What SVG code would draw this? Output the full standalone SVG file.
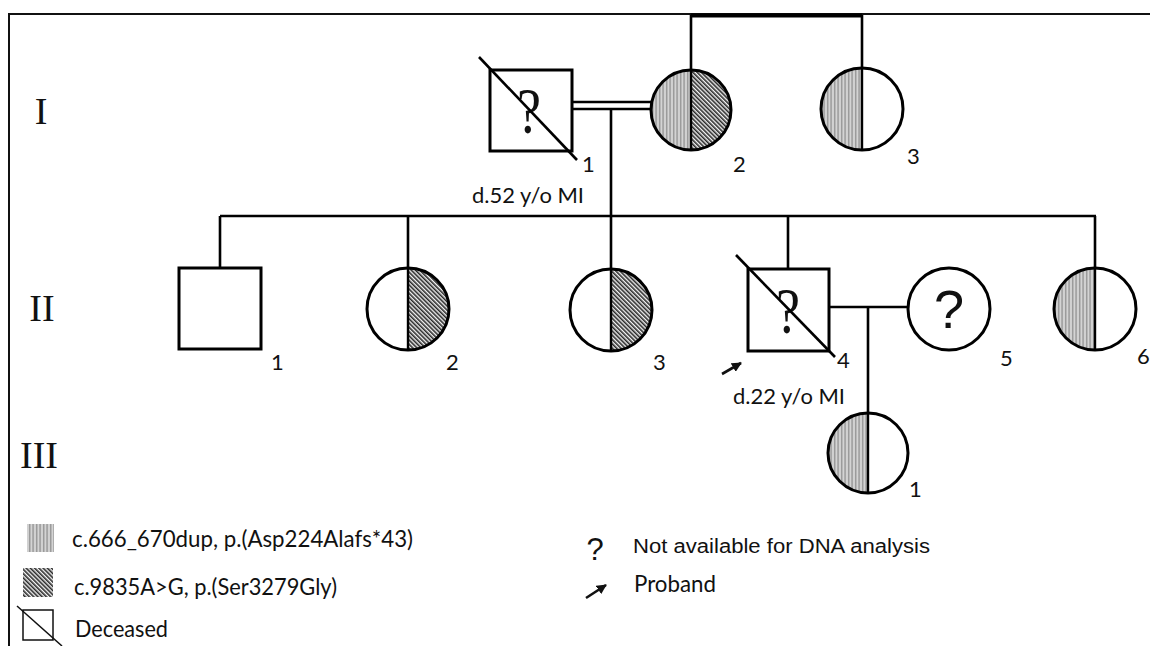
<svg xmlns="http://www.w3.org/2000/svg" width="1150" height="646" viewBox="0 0 1150 646">
<style>
.sh{fill:#fff;stroke:#000;stroke-width:3}
.ln{fill:none;stroke:#000;stroke-width:2.6}
.mid{stroke:#000;stroke-width:2.4}
.gen{font-family:"Liberation Serif",serif;font-size:38px;fill:#111;text-anchor:middle}
.num{font-family:Lato,"Open Sans",sans-serif;font-size:22px;fill:#111}
.lab{font-family:Lato,"Open Sans",sans-serif;font-size:22px;fill:#111}
.leg{font-family:Lato,"Open Sans",sans-serif;font-size:24px;fill:#111}
.qs{font-family:"Liberation Serif",serif;font-size:66px;fill:#111;text-anchor:middle}
.qa{font-family:"Liberation Sans",Arial,sans-serif;fill:#111;text-anchor:middle}
.ta{font-family:"Liberation Sans",Arial,sans-serif;fill:#111}
</style>
<defs>
<pattern id="lt" width="3.5" height="4" patternUnits="userSpaceOnUse"><rect width="3.5" height="4" fill="#d4d4d4"/><rect x="1" width="1.3" height="4" fill="#8e8e8e"/></pattern>
<pattern id="dk" width="3" height="3" patternUnits="userSpaceOnUse" patternTransform="rotate(-45)"><rect width="3" height="3" fill="#f4f4f4"/><rect width="1.6" height="3" fill="#2a2a2a"/></pattern>
<marker id="arr" markerWidth="10" markerHeight="10" refX="9" refY="5" orient="auto" markerUnits="userSpaceOnUse"><path d="M0,0 L10,5 L0,10 Z" fill="#111"/></marker>
</defs>
<rect width="1150" height="646" fill="#fff"/>
<g id="frame">
<path d="M9,646 V14 H1150" fill="none" stroke="#111" stroke-width="2"/>
</g>
<g id="generations">
<text class="gen" x="41" y="124">I</text>
<text class="gen" x="42" y="321">II</text>
<text class="gen" x="39" y="468">III</text>
</g>
<g id="connectors">
<path class="ln" d="M691,15 V70 M862,15 V68"/>
<path d="M691,15.5 H862" stroke="#000" stroke-width="4"/>
<path class="ln" d="M572,102 H651 M572,109 H651"/>
<path class="ln" d="M611,109 V269"/>
<path class="ln" d="M220,216 H1096"/>
<path class="ln" d="M220,216 V268 M408,216 V268 M788,216 V269 M1095,216 V268"/>
<path class="ln" d="M829,307 H909 M868,307 V413"/>
</g>
<g id="I-1">
<rect class="sh" x="490" y="70" width="82" height="81"/>
<text class="qs" x="529" y="133" textLength="24" lengthAdjust="spacingAndGlyphs">?</text>
<path class="ln" d="M479,57 L577,160"/>
<text class="num" x="582" y="172">1</text>
<text class="lab" x="472" y="203" textLength="112" lengthAdjust="spacingAndGlyphs">d.52 y/o MI</text>
</g>
<g id="I-2">
<path d="M691,70 A40,40 0 0 0 691,150 Z" fill="url(#lt)"/>
<path d="M691,70 A40,40 0 0 1 691,150 Z" fill="url(#dk)"/>
<circle cx="691" cy="110" r="40" fill="none" stroke="#000" stroke-width="3"/>
<path class="mid" d="M691,70 V150"/>
<text class="num" x="733" y="172">2</text>
</g>
<g id="I-3">
<path d="M862,68 A41,41 0 0 0 862,150 Z" fill="url(#lt)"/>
<circle cx="862" cy="109" r="41" fill="none" stroke="#000" stroke-width="3"/>
<path class="mid" d="M862,68 V150"/>
<text class="num" x="907" y="164">3</text>
</g>
<g id="II-1">
<rect class="sh" x="179" y="268" width="82" height="81"/>
<text class="num" x="271" y="370">1</text>
</g>
<g id="II-2">
<path d="M408,268 A41,41 0 0 1 408,350 Z" fill="url(#dk)"/>
<circle cx="408" cy="309" r="41" fill="none" stroke="#000" stroke-width="3"/>
<path class="mid" d="M408,268 V350"/>
<text class="num" x="446" y="370">2</text>
</g>
<g id="II-3">
<path d="M611,269 A41,41 0 0 1 611,351 Z" fill="url(#dk)"/>
<circle cx="611" cy="310" r="41" fill="none" stroke="#000" stroke-width="3"/>
<path class="mid" d="M611,269 V351"/>
<text class="num" x="653" y="370">3</text>
</g>
<g id="II-4">
<rect class="sh" x="748" y="269" width="81" height="82"/>
<text class="qs" x="788" y="333" textLength="24" lengthAdjust="spacingAndGlyphs">?</text>
<path class="ln" d="M736,255 L835,357"/>
<text class="num" x="837" y="368">4</text>
<path d="M722,374 L741,363" stroke="#111" stroke-width="2.6" marker-end="url(#arr)"/>
<text class="lab" x="733" y="404" textLength="112" lengthAdjust="spacingAndGlyphs">d.22 y/o MI</text>
</g>
<g id="II-5">
<circle class="sh" cx="949" cy="309" r="41"/>
<text class="qa" x="949" y="328" font-size="54">?</text>
<text class="num" x="1000" y="366">5</text>
</g>
<g id="II-6">
<path d="M1095,268 A41,41 0 0 0 1095,350 Z" fill="url(#lt)"/>
<circle cx="1095" cy="309" r="41" fill="none" stroke="#000" stroke-width="3"/>
<path class="mid" d="M1095,268 V350"/>
<text class="num" x="1137" y="364">6</text>
</g>
<g id="III-1">
<path d="M868,413 A40,40 0 0 0 868,493 Z" fill="url(#lt)"/>
<circle cx="868" cy="453" r="40" fill="none" stroke="#000" stroke-width="3"/>
<path class="mid" d="M868,413 V493"/>
<text class="num" x="909" y="497">1</text>
</g>
<g id="legend">
<rect x="27" y="524" width="27" height="28" fill="url(#lt)"/>
<text class="leg" x="72" y="547" textLength="341" lengthAdjust="spacingAndGlyphs">c.666_670dup, p.(Asp224Alafs*43)</text>
<rect x="23" y="568" width="30" height="29" fill="url(#dk)"/>
<text class="leg" x="74" y="595" textLength="263" lengthAdjust="spacingAndGlyphs">c.9835A&gt;G, p.(Ser3279Gly)</text>
<rect x="23" y="610" width="30" height="30" fill="#fff" stroke="#111" stroke-width="1.5"/>
<path d="M17,606 L62,646" stroke="#111" stroke-width="1.5"/>
<text class="leg" x="75" y="637" textLength="93" lengthAdjust="spacingAndGlyphs">Deceased</text>
<text class="qa" x="595" y="560" font-size="31">?</text>
<text class="ta" x="633" y="553" font-size="20" textLength="297" lengthAdjust="spacingAndGlyphs">Not available for DNA analysis</text>
<path d="M586,598 L606,585" stroke="#111" stroke-width="2.6" marker-end="url(#arr)"/>
<text class="leg" x="634" y="592" textLength="82" lengthAdjust="spacingAndGlyphs">Proband</text>
</g>
</svg>
